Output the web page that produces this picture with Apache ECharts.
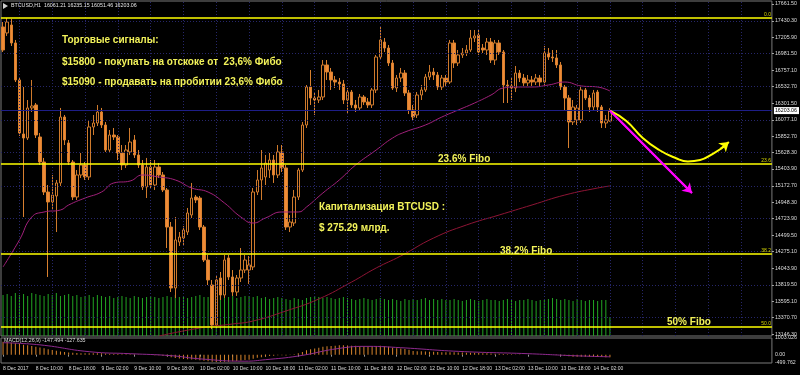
<!DOCTYPE html>
<html><head><meta charset="utf-8">
<script src="https://cdn.jsdelivr.net/npm/echarts@6/dist/echarts.min.js"></script>
<style>html,body{margin:0;padding:0;background:#000;}#c{width:800px;height:375px;}</style>
</head><body><div id="c"></div>
<script>
// ---------- data ----------
const opens = [
17347,17265,17374,17128,16622,15883,15828,16239,16280,15842,
15500,15089,14953,15035,15213,16115,15760,15500,15021,15322,
15459,15295,15979,16033,16184,16006,15664,15869,15842,15623,
15459,15637,15801,15596,15459,15158,15431,15185,15431,15322,
15117,14610,13776,14405,14460,14542,14775,15021,15007,14610,
14159,13817,13270,13913,13680,14187,13927,13721,13913,14022,
14022,14064,15089,15254,15295,15390,15527,15322,15637,15418,
14610,14665,15021,15390,16006,16526,16375,16348,16389,16827,
16731,16622,16594,16567,16348,16457,16280,16239,16389,16321,
16280,16485,16936,17141,17059,16854,16512,16649,16717,16444,
16211,16143,16416,16485,16663,16731,16690,16526,16649,16594,
17128,16854,16964,16991,17032,17196,17237,17059,17032,17141,
16895,17128,17005,16553,16540,16512,16717,16649,16581,16622,
16594,16649,16594,16991,16936,16923,16827,16526,16375,16047,
16074,16074,16485,16375,16252,16457,16252,16033,16061.21];
const closes = [
17032,17415,17128,16622,15897,15828,16239,16266,15869,15500,
15089,14953,15048,15213,16115,15801,15500,15021,15322,15459,
15295,15979,16033,16184,16006,15664,15869,15842,15623,15459,
15664,15773,15596,15459,15158,15431,15185,15431,15322,15117,
14610,13776,14433,14474,14570,14802,15007,14980,14610,14159,
13886,13270,13886,13680,14159,13927,13721,13913,14022,14159,
14091,15089,15254,15418,15486,15527,15322,15637,15418,14610,
14679,15021,15390,16006,16526,16375,16348,16389,16827,16731,
16622,16594,16567,16348,16457,16280,16239,16389,16321,16280,
16485,16936,17169,17059,16854,16512,16649,16717,16444,16211,
16115,16416,16485,16663,16731,16690,16526,16649,16594,17128,
16854,16964,16991,17032,17196,17224,17005,17032,17141,16895,
17128,17005,16553,16540,16512,16717,16649,16581,16622,16594,
16649,16594,16991,16936,16923,16827,16526,16375,16047,16252,
16239,16485,16375,16252,16444,16252,16033,16074,16203.06];
const highs = [
17415,17470,17456,17169,16649,16526,16348,16622,16307,15897,
15555,15185,15322,15254,16239,16143,15801,15527,15390,15623,
15500,16074,16143,16280,16239,16047,15938,15965,15869,15732,
15732,15965,15869,15664,15527,15555,15527,15527,15486,15363,
15144,14679,14747,14542,14624,14871,15213,15048,15035,14638,
14228,13886,13954,13995,14228,14228,14022,13954,14323,14228,
14214,15144,15390,15664,15596,15623,15596,15732,15732,15459,
14775,15117,15418,16047,16553,16758,16457,16485,16895,16895,
16786,16676,16649,16622,16512,16485,16348,16430,16416,16375,
16512,16964,17347,17196,17100,16895,16690,16786,16758,16485,
16280,16457,16553,16704,16827,16786,16731,16690,16690,17169,
17169,17032,17059,17100,17306,17306,17306,17114,17196,17196,
17169,17169,17032,16622,16649,16813,16758,16704,16690,16676,
16704,16690,17087,17059,17032,17032,16868,16553,16416,16348,
16280,16526,16512,16416,16485,16485,16280,16143,16235.15];
const lows = [
17005,17224,17087,16594,15856,14747,15801,16184,15828,15459,
15048,13927,14843,14542,15172,15732,15459,14980,14980,15281,
15254,15254,15869,15992,15965,15637,15637,15801,15527,15390,
15418,15596,15555,15418,15117,15007,15144,15117,15281,15089,
14323,13721,13639,14351,14351,14501,14734,14939,14570,14132,
13817,13215,13229,13612,13639,13886,13667,13667,13858,13981,
13831,14022,15048,14980,15185,15281,15213,15281,15363,14570,
14542,14624,14980,15363,15965,16280,16143,16307,16348,16622,
16485,16512,16485,16293,16156,16239,16184,16211,16280,16239,
16239,16444,16895,17005,16813,16485,16457,16594,16403,16156,
16074,16102,16348,16457,16622,16622,16485,16485,16540,16567,
16786,16813,16923,16950,17005,17141,16964,16991,16964,16854,
16827,16964,16307,16307,16348,16457,16594,16540,16540,16540,
16553,16540,16553,16895,16868,16786,16485,16211,15691,16006,
16006,16033,16348,16184,16211,16184,15965,15965,16051.46];
const volumes = [
4100,4200,4000,4300,4100,4200,4000,4300,4200,4100,
4000,4200,4100,4300,4000,4100,4200,4000,4100,3900,
4000,4100,3900,4100,4000,3900,4000,3800,3900,4000,
3900,3800,4000,3900,3800,3900,4000,3900,3800,3900,
4000,3900,4100,3900,4000,3800,3900,4000,4100,3900,
3900,4000,3900,4000,3800,3900,4000,3800,3900,4000,
4000,3900,4000,3800,3900,3700,3800,3900,3800,3700,
3600,3800,3700,3600,3800,3900,4000,3900,3800,3900,
3800,3700,3800,3900,3800,3700,3600,3700,3800,3700,
3600,3700,3800,3700,3600,3700,3600,3500,3700,3600,
3700,3600,3700,3800,3600,3700,3600,3700,3600,3600,
3700,3600,3500,3600,3700,3600,3500,3600,3700,3600,
3600,3500,3600,3700,3600,3500,3600,3600,3700,3600,
3500,3600,3600,3700,3800,3700,3600,3700,3600,3500,
3700,3600,3500,3600,3600,3500,3600,3600,1900];
const macdHist = [
780,760,720,690,650,600,560,520,470,430,
380,330,280,230,190,160,130,110,100,90,
80,80,90,90,80,70,60,50,40,30,
30,20,20,10,0,-10,-20,-30,-40,-60,
-100,-160,-200,-230,-260,-280,-290,-310,-330,-360,
-390,-430,-440,-440,-430,-420,-400,-380,-350,-320,
-300,-240,-190,-150,-110,-80,-60,-40,-30,-50,
-20,20,80,160,260,330,370,410,470,500,
520,540,560,560,550,540,530,510,500,490,
500,520,540,510,470,420,390,370,340,300,
220,210,200,190,180,170,160,150,140,150,
140,130,130,120,120,110,100,90,80,70,
60,50,40,30,20,10,10,0,0,-10,
-10,-10,0,0,-10,-20,-40,-70,-100,-120,
-120,-120,-120,-130,-130,-135,-145,-150,-147.494];
// sparse readings [bar index, value]
const macdSignal = [[0,720],[9,590],[21,180],[31,60],[41,-60],[48,-250],[59,-390],[64,-300],[72,-80],[82,380],[89,500],[97,420],[111,200],[128,60],[140,-70],[148,-127.635]];
const maFast = [[0,14064],[4,14433],[7,14747],[10,14816],[14,14843],[16,14912],[20,15007],[24,15089],[27,15213],[31,15240],[34,15322],[38,15295],[42,15254],[46,15144],[50,15089],[54,14939],[58,14747],[61,14665],[64,14734],[68,14816],[72,14816],[74,14884],[78,15076],[82,15254],[86,15459],[91,15664],[95,15828],[98,15910],[103,16006],[107,16115],[111,16211],[115,16307],[119,16416],[122,16512],[125,16526],[129,16526],[133,16553],[137,16594],[141,16540],[145,16526],[148,16471]];
const maSlow = [[38,13119],[48,13229],[56,13284],[61,13325],[69,13462],[77,13626],[85,13858],[91,14050],[97,14214],[105,14460],[113,14638],[121,14775],[129,14912],[137,15048],[145,15144],[148,15172]];
const arrowUp = [[148,16203],[152,16061],[156,15828],[160,15664],[164,15555],[167,15507],[170,15527],[173,15609],[176,15719]];
const arrowUpTip = [[175,15680],[177,15774]];
const arrowDown = [[148,16203],[168,15076]];

const priceTicks = [17661.50,17430.30,17205.90,16981.50,16757.10,16532.70,16301.50,16077.10,15852.70,15628.30,15403.90,15172.70,14948.30,14723.90,14499.50,14275.10,14043.90,13819.50,13595.10,13370.70,13146.30];
const gridPrices = [17430.30,16981.50,16532.70,16077.10,15628.30,15172.70,14723.90,14275.10,13819.50,13370.70];
const timeLabels = ['8 Dec 2017','8 Dec 10:00','8 Dec 18:00','9 Dec 02:00','9 Dec 10:00','9 Dec 18:00','10 Dec 02:00','10 Dec 10:00','10 Dec 18:00','11 Dec 02:00','11 Dec 10:00','11 Dec 18:00','12 Dec 02:00','12 Dec 10:00','12 Dec 18:00','13 Dec 02:00','13 Dec 10:00','13 Dec 18:00','14 Dec 02:00'];
const fibLevels = ['0.0','23.6','38.2','50.0'];
const fibPrices = [17470,15475,14241,13243];
const macdTicks = [1003.026,0,-499.762];
const lastPrice = 16203.06;
const priceMin = 13119.5, priceMax = 17702.3;
const macdMin = -499.762, macdMax = 1003.026;
const volMax = 33500;

// ---------- layout ----------
const N = 188;
const cats = Array.from({length:N},(_,i)=>String(i));
const candleData = opens.map((o,i)=>[o,closes[i],lows[i],highs[i]]);
const FONT = '"Liberation Sans", Arial, sans-serif';
const YTXT = '#f2f25a';
const vGrid = []; for (let i=4;i<N;i+=8) vGrid.push(i);
const isLabelIdx = (i)=> i%8===0 && i/8 < timeLabels.length;

const notes = [
 ['Торговые сигналы:',62,40],
 ['$15800 - покупать на отскоке от  23,6% Фибо',62,62],
 ['$15090 - продавать на пробитии 23,6% Фибо',62,82],
 ['Капитализация BTCUSD :',319,207],
 ['$ 275.29 млрд.',319,228],
 ['23.6% Fibo',438,159],
 ['38.2% Fibo',500,251],
 ['50% Fibo',667,322]
];
const last = opens.length-1;
const titleText = 'BTCUSD,H1  ' + [opens[last],highs[last],lows[last],closes[last]].map(v=>v.toFixed(2)).join(' ');
const macdTitle = 'MACD(12,26,9) ' + macdHist[last].toFixed(3) + ' ' + macdSignal[macdSignal.length-1][1].toFixed(3);

const chart = echarts.init(document.getElementById('c'), null, {renderer:'canvas'});
chart.setOption({
  backgroundColor:'#000',
  animation:false,
  grid:[
    {left:1,right:26,top:1,height:335,show:true,borderColor:'#7a7a7a',borderWidth:1,backgroundColor:'#000'},
    {left:1,right:26,top:338,height:25,show:true,borderColor:'#7a7a7a',borderWidth:1,backgroundColor:'#000'}
  ],
  xAxis:[
    {type:'category',gridIndex:0,data:cats,boundaryGap:true,axisLine:{show:false},axisTick:{show:false},axisLabel:{show:false},splitLine:{show:false}},
    {type:'category',gridIndex:1,data:cats,boundaryGap:true,axisLine:{show:false},
     axisTick:{show:true,alignWithLabel:true,interval:isLabelIdx,length:2,lineStyle:{color:'#999'}},
     axisLabel:{show:true,interval:isLabelIdx,formatter:(v,i)=>timeLabels[i/8],align:'left',color:'#ddd',fontSize:5,fontFamily:FONT,margin:3},
     splitLine:{show:false}}
  ],
  yAxis:[
    {type:'value',gridIndex:0,position:'right',min:priceMin,max:priceMax,
     axisLine:{show:false},
     axisTick:{show:true,customValues:priceTicks,length:2,lineStyle:{color:'#aaa'}},
     axisLabel:{show:true,customValues:priceTicks,formatter:v=>v.toFixed(2),color:'#ddd',fontSize:5.3,fontFamily:FONT,margin:3},
     splitLine:{show:false}},
    {type:'value',gridIndex:0,min:0,max:volMax,show:false,splitLine:{show:false}},
    {type:'value',gridIndex:1,position:'right',min:macdMin,max:macdMax,
     axisLine:{show:false},axisTick:{show:false},
     axisLabel:{show:true,customValues:macdTicks,formatter:v=>v===0?'0.00':v.toFixed(3),color:'#ddd',fontSize:5.3,fontFamily:FONT,margin:3},
     splitLine:{show:false}}
  ],
  series:[
    {name:'grid',type:'line',xAxisIndex:0,yAxisIndex:0,data:[[0,null]],symbol:'none',z:1,silent:true,
     markLine:{silent:true,symbol:['none','none'],animation:false,label:{show:false},
       lineStyle:{color:'#26266a',type:[1,2],width:1},
       data:[...gridPrices.map(p=>({yAxis:p})),...vGrid.map(i=>({xAxis:i}))]}},
    {name:'Volumes',type:'bar',xAxisIndex:0,yAxisIndex:1,data:volumes,barWidth:1,itemStyle:{color:'#22a522'},z:2,silent:true},
    {name:'BTCUSD',type:'candlestick',xAxisIndex:0,yAxisIndex:0,data:candleData,barWidth:3,z:3,
     itemStyle:{color:'#000',color0:'#ef8b37',borderColor:'#cf7a2c',borderColor0:'#d9802f',borderWidth:1},
     markLine:{silent:true,symbol:['none','none'],animation:false,
       data:[
         ...fibPrices.map((p,i)=>({yAxis:p,lineStyle:{color:'#ffff00',width:1.5,type:'solid'},
            label:{show:true,position:'insideEndTop',formatter:fibLevels[i],color:'#d8d800',fontSize:5,fontFamily:FONT,distance:1}})),
         {yAxis:lastPrice,lineStyle:{color:'#1e1e88',width:1,type:'solid'},
          label:{show:true,position:'end',formatter:lastPrice.toFixed(2),backgroundColor:'#fff',color:'#000',fontSize:5.3,fontFamily:FONT,padding:[1,2,1,1],distance:2}}
       ]}},
    {name:'MA fast',type:'line',xAxisIndex:0,yAxisIndex:0,data:maFast,smooth:true,symbol:'none',lineStyle:{color:'#a3217c',width:1},z:4,silent:true},
    {name:'MA slow',type:'line',xAxisIndex:0,yAxisIndex:0,data:maSlow,smooth:true,symbol:'none',lineStyle:{color:'#8e1535',width:1},z:4,silent:true},
    {name:'up',type:'line',xAxisIndex:0,yAxisIndex:0,data:arrowUp,smooth:true,symbol:'none',lineStyle:{color:'#ffff00',width:2},z:5,silent:true,
     markLine:{silent:true,symbol:['none','arrow'],symbolSize:9,label:{show:false},lineStyle:{color:'#ffff00',width:2,type:'solid'},
       data:[[{coord:arrowUpTip[0]},{coord:arrowUpTip[1]}]]}},
    {name:'down',type:'line',xAxisIndex:0,yAxisIndex:0,data:arrowDown,symbol:'none',lineStyle:{color:'#ff00ff',width:2},z:5,silent:true,
     markLine:{silent:true,symbol:['none','arrow'],symbolSize:9,label:{show:false},lineStyle:{color:'#ff00ff',width:2,type:'solid'},
       data:[[{coord:arrowDown[0]},{coord:arrowDown[1]}]]}},
    {name:'MACD',type:'bar',xAxisIndex:1,yAxisIndex:2,data:macdHist,barWidth:1,itemStyle:{color:'#d8842c'},z:2,silent:true},
    {name:'Signal',type:'line',xAxisIndex:1,yAxisIndex:2,data:macdSignal,smooth:true,symbol:'none',lineStyle:{color:'#8e2a8e',width:1},z:3,silent:true}
  ],
  graphic:[
    {type:'polygon',shape:{points:[[3,3],[8,6],[3,9]]},style:{fill:'#cfcfcf'},z:10},
    {type:'text',x:11,y:6,z:10,style:{text:titleText,fill:'#e6e6e6',fontSize:5.3,fontFamily:FONT,verticalAlign:'middle'}},
    {type:'text',x:4,y:341,z:10,style:{text:macdTitle,fill:'#dddddd',fontSize:5.3,fontFamily:FONT,verticalAlign:'middle'}},
    ...notes.map(n=>({type:'text',x:n[1],y:n[2],z:10,style:{text:n[0],fill:YTXT,fontSize:10,fontWeight:'bold',fontFamily:FONT,verticalAlign:'middle'}}))
  ]
});
</script>
</body></html>
